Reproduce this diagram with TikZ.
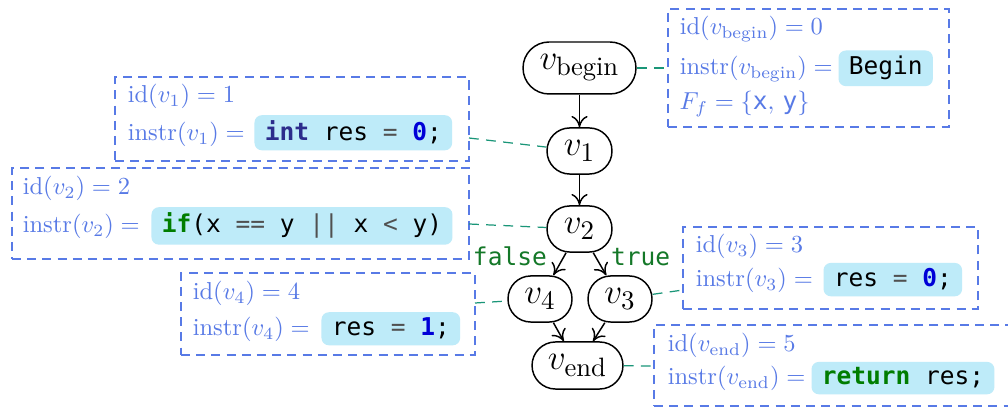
\documentclass[tikz,border=0pt]{standalone}
\usepackage{fontspec}
\setmonofont{DejaVu Sans Mono}
\usetikzlibrary{arrows.meta}

\definecolor{annblue}{RGB}{88,122,230}
\definecolor{conteal}{RGB}{26,150,120}
\definecolor{codebg}{RGB}{190,235,249}
\definecolor{kwgreen}{RGB}{0,125,0}
\definecolor{kwnavy}{RGB}{44,44,140}
\definecolor{numblue}{RGB}{0,0,215}
\definecolor{opgray}{RGB}{80,80,80}
\definecolor{lblgreen}{RGB}{20,120,40}

\def\px{0.408pt}

\begin{document}
\begin{tikzpicture}[x=0.408pt,y=-0.408pt,
  cfg/.style={draw=black, line width=0.6pt, rounded corners=9.3pt, inner sep=0pt,
    minimum width=26.5pt, minimum height=18.8pt, font=\fontsize{15.5}{18}\selectfont},
  infobox/.style={draw=annblue, line width=0.5pt, dash pattern=on 3.7pt off 2.5pt, inner sep=0pt},
  anntext/.style={anchor=base west, inner sep=0pt, text=annblue},
  codebox/.style={anchor=base west, fill=codebg, rounded corners=3pt, inner xsep=4.2pt,
    inner ysep=2.4pt, font=\ttfamily},
  conn/.style={draw=conteal, line width=0.5pt, dash pattern=on 4pt off 3pt},
  flow/.style={-{To[length=4.6pt,width=6.6pt]}, line width=0.6pt},
  lbl/.style={anchor=base west, inner sep=0pt, text=lblgreen, font=\ttfamily}
]
\useasboundingbox (0,0) rectangle (1008,408);
\fill[white] (0,0) rectangle (1008,408);
\clip (0,0) rectangle (1008,408);

% CFG nodes
\node[cfg, minimum width=46.1pt, minimum height=21.2pt, rounded corners=10.6pt] (vb) at (579.5,68) {$v_{\mathrm{begin}}$};
\node[cfg] (v1) at (579.5,151) {$v_1$};
\node[cfg] (v2) at (579.5,229) {$v_2$};
\node[cfg, minimum width=26.1pt] (v4) at (540,299) {$v_4$};
\node[cfg, minimum width=26.1pt] (v3) at (620,299) {$v_3$};
\node[cfg, minimum width=37.1pt, minimum height=19.2pt, rounded corners=9.6pt] (ve) at (577.5,365.5) {$v_{\mathrm{end}}$};

\draw[flow] (vb) -- (v1);
\draw[flow] (v1) -- (v2);
\draw[flow] (v2) -- (v4);
\draw[flow] (v2) -- (v3);
\draw[flow] (v4) -- (ve);
\draw[flow] (v3) -- (ve);

\node[lbl] (lf) at (472.5,266) {false};
\node[lbl] (lt) at (610.5,266) {true};

% annotation boxes
\node[infobox, minimum width=281*\px, minimum height=118*\px] (bb) at (808.5,68) {};
\node[infobox, minimum width=354*\px, minimum height=84*\px] (b1) at (292,119) {};
\node[infobox, minimum width=457*\px, minimum height=91*\px] (b2) at (240.5,213.5) {};
\node[infobox, minimum width=295*\px, minimum height=82*\px] (b3) at (830.5,268) {};
\node[infobox, minimum width=294*\px, minimum height=82*\px] (b4) at (328,314) {};
\node[infobox, minimum width=360*\px, minimum height=81*\px] (be) at (834,365.5) {};

% begin
\node[anntext] (tb1) at (679.3,35) {$\mathrm{id}(v_{\mathrm{begin}}) = 0$};
\node[anntext] (tb2) at (679.3,75) {$\mathrm{instr}(v_{\mathrm{begin}}) =$};
\node[codebox] (cb0) at (838,75) {Begin};
\node[anntext] (tb3) at (679,110) {$F_f = \{\texttt{x},\,\texttt{y}\}$};

% v1
\node[anntext] (t11) at (127.3,103) {$\mathrm{id}(v_1) = 1$};
\node[anntext] (t12) at (127.3,141) {$\mathrm{instr}(v_1) =$};
\node[codebox] (c1) at (254,141) {\textbf{\color{kwnavy}int} res {\color{opgray}=} \textbf{\color{numblue}0};};

% v2
\node[anntext] (t21) at (22.3,195) {$\mathrm{id}(v_2) = 2$};
\node[anntext] (t22) at (22.3,233) {$\mathrm{instr}(v_2) =$};
\node[codebox] (c2) at (151,233) {\textbf{\color{kwgreen}if}(x {\color{opgray}==} y {\color{opgray}||} x {\color{opgray}<} y)};

% v3
\node[anntext] (t31) at (695.3,253) {$\mathrm{id}(v_3) = 3$};
\node[anntext] (t32) at (695.3,287) {$\mathrm{instr}(v_3) =$};
\node[codebox] (c3) at (823,287) {res {\color{opgray}=} \textbf{\color{numblue}0};};

% v4
\node[anntext] (t41) at (192.3,300) {$\mathrm{id}(v_4) = 4$};
\node[anntext] (t42) at (192.3,336) {$\mathrm{instr}(v_4) =$};
\node[codebox] (c4) at (321,336) {res {\color{opgray}=} \textbf{\color{numblue}1};};

% vend
\node[anntext] (t51) at (667.3,352) {$\mathrm{id}(v_{\mathrm{end}}) = 5$};
\node[anntext] (t52) at (667.3,385) {$\mathrm{instr}(v_{\mathrm{end}}) =$};
\node[codebox] (c5) at (811,385) {\textbf{\color{kwgreen}return} res;};

% connectors
\coordinate (kb) at (668,68);
\coordinate (k1) at (469,138);
\coordinate (k2) at (469,224);
\coordinate (k3) at (683,290);
\coordinate (k4) at (475,303);
\coordinate (ke) at (654,366);
\draw[conn] (vb) -- (kb);
\draw[conn] (k1) -- (v1);
\draw[conn] (k2) -- (v2);
\draw[conn] (v3) -- (k3);
\draw[conn] (k4) -- (v4);
\draw[conn] (ve) -- (ke);
\end{tikzpicture}
\end{document}
